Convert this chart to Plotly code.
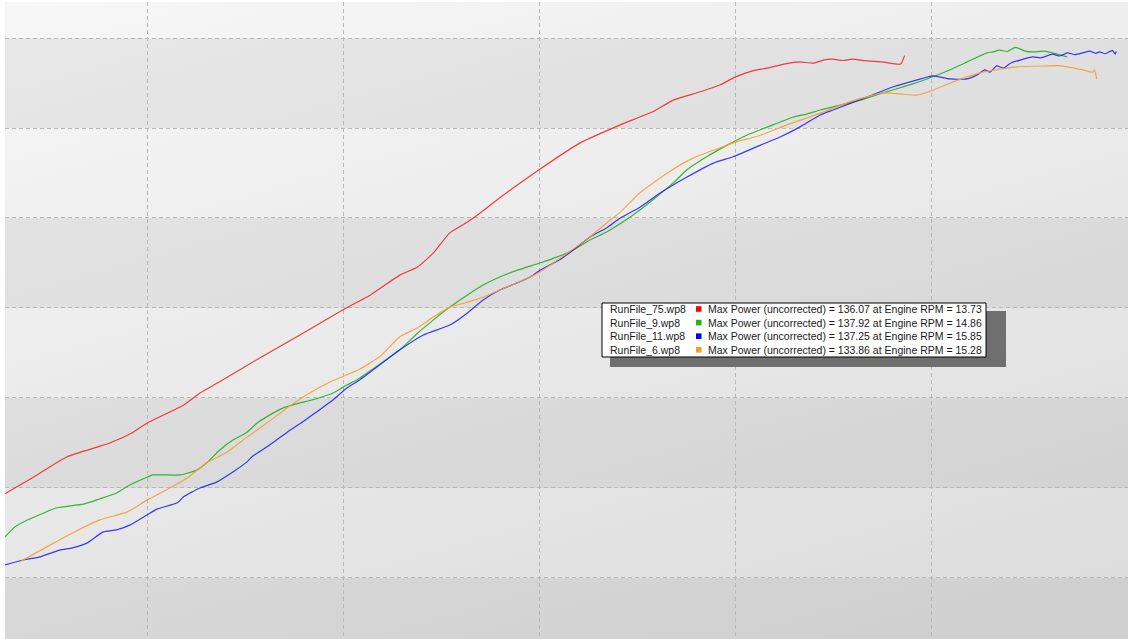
import base64
import plotly.graph_objects as go

# ---------------- data ----------------
files = ["RunFile_75.wp8", "RunFile_9.wp8", "RunFile_11.wp8", "RunFile_6.wp8"]
max_power = [136.07, 137.92, 137.25, 133.86]
max_rpm = [13.73, 14.86, 15.85, 15.28]

red_x = [4.55, 4.84, 5.18, 5.62, 5.86, 6.00, 6.37, 6.54, 6.74, 7.15, 7.56, 8.00, 8.28, 8.58,
         8.76, 8.92, 9.09, 9.27, 9.40, 9.57, 10.00, 10.42, 10.83, 11.16, 11.37, 11.64, 11.85,
         12.00, 12.18, 12.33, 12.50, 12.66, 12.80, 12.90, 13.00, 13.10, 13.20, 13.35, 13.50,
         13.69, 13.73]
red_y = [38.7, 42.4, 46.9, 50.0, 52.4, 54.4, 58.4, 61.1, 63.6, 68.9, 74.0, 79.6, 82.9, 87.3,
         89.1, 92.2, 96.7, 99.1, 101.1, 104.0, 110.7, 116.7, 120.7, 123.6, 126.2, 128.0, 129.6,
         131.3, 132.7, 133.3, 134.2, 134.7, 134.4, 135.1, 135.3, 135.0, 135.3, 134.9, 134.7,
         134.2, 136.07]

green_x = [4.55, 4.65, 4.78, 4.94, 5.08, 5.35, 5.52, 5.69, 5.80, 6.00, 6.06, 6.34, 6.51, 6.61,
           6.74, 6.88, 7.02, 7.12, 7.22, 7.39, 7.56, 7.69, 7.90, 8.04, 8.14, 8.58, 8.76, 8.92,
           9.09, 9.27, 9.43, 9.60, 9.78, 10.01, 10.18, 10.35, 10.52, 10.69, 10.93, 11.16, 11.37,
           11.51, 11.71, 11.92, 12.12, 12.33, 12.59, 12.73, 12.87, 13.00, 13.28, 13.51, 13.74,
           13.96, 14.19, 14.37, 14.57, 14.63, 14.70, 14.78, 14.86, 14.96, 15.04, 15.16, 15.24,
           15.39]
green_y = [29.1, 31.3, 32.9, 34.4, 35.6, 36.4, 37.6, 38.9, 40.4, 42.4, 42.9, 42.9, 44.0, 45.6,
           48.4, 50.7, 52.4, 54.4, 55.8, 57.8, 58.9, 59.6, 61.1, 62.9, 64.0, 70.7, 74.4, 77.3,
           80.2, 82.9, 85.1, 86.9, 88.4, 90.0, 91.3, 92.9, 95.1, 96.9, 100.2, 104.0, 107.8,
           110.7, 113.6, 116.2, 118.4, 120.2, 122.4, 123.1, 124.0, 124.7, 126.2, 127.8, 129.3,
           130.9, 132.9, 134.7, 136.7, 136.9, 137.3, 137.0, 137.92, 137.1, 136.9, 137.1, 136.7,
           135.8]

blue_x = [4.55, 4.74, 4.91, 5.11, 5.24, 5.39, 5.55, 5.69, 5.83, 6.00, 6.10, 6.31, 6.37, 6.54,
          6.71, 6.88, 7.02, 7.08, 7.22, 7.43, 7.59, 7.73, 7.90, 8.04, 8.17, 8.58, 8.82, 9.09,
          9.27, 9.43, 9.60, 9.78, 9.94, 10.01, 10.21, 10.35, 10.52, 10.69, 10.83, 11.03, 11.24,
          11.51, 11.78, 11.98, 12.26, 12.46, 12.66, 12.87, 13.00, 13.35, 13.61, 13.86, 14.02,
          14.19, 14.37, 14.47, 14.55, 14.60, 14.67, 14.74, 14.81, 14.91, 15.04, 15.12, 15.24,
          15.31, 15.39, 15.47, 15.55, 15.62, 15.68, 15.72, 15.78, 15.85, 15.88, 15.89]
blue_y = [22.9, 24.0, 24.7, 26.2, 26.7, 27.8, 30.2, 30.7, 31.8, 34.0, 35.3, 36.7, 38.0, 40.0,
          41.3, 43.6, 45.8, 47.1, 49.1, 52.4, 54.7, 56.9, 59.6, 62.2, 64.0, 70.7, 74.0, 76.2,
          78.9, 81.8, 84.0, 85.6, 87.3, 88.4, 90.7, 92.9, 95.8, 97.8, 100.0, 102.4, 105.6,
          109.1, 112.2, 113.6, 116.2, 118.0, 120.2, 122.9, 124.0, 126.9, 129.1, 130.7, 131.6,
          130.9, 130.9, 131.8, 132.9, 132.4, 133.8, 133.3, 134.4, 135.1, 135.8, 135.6, 136.4,
          136.0, 136.7, 136.3, 136.7, 137.1, 136.6, 136.9, 136.5, 137.25, 136.4, 137.0]

orange_x = [4.72, 5.01, 5.24, 5.52, 5.80, 6.00, 6.20, 6.41, 6.61, 6.82, 7.02, 7.22, 7.43, 7.63,
            7.87, 8.17, 8.38, 8.58, 8.76, 8.92, 9.09, 9.27, 9.43, 9.60, 9.78, 10.01, 10.29,
            10.52, 10.69, 10.83, 11.03, 11.31, 11.57, 11.85, 11.98, 12.26, 12.53, 12.73, 12.87,
            13.17, 13.51, 13.68, 13.86, 14.02, 14.22, 14.53, 14.88, 15.21, 15.28, 15.39, 15.55,
            15.65, 15.67, 15.69]
orange_y = [23.8, 27.3, 30.0, 32.9, 34.7, 37.3, 39.6, 42.2, 45.6, 48.0, 51.3, 54.4, 57.8, 60.7,
            63.6, 66.4, 69.3, 73.6, 75.6, 78.0, 80.2, 81.3, 82.4, 84.0, 85.6, 88.0, 92.2,
            95.8, 98.9, 101.3, 105.6, 110.0, 113.3, 115.6, 116.7, 118.4, 120.7, 122.2, 123.3,
            125.8, 127.8, 127.6, 127.3, 128.4, 130.2, 132.4, 133.6, 133.8, 133.86, 133.6, 132.9,
            132.4, 132.9, 130.9]

series_x = [red_x, green_x, blue_x, orange_x]
series_y = [red_y, green_y, blue_y, orange_y]
line_colors = ["#f22a2a", "#22b022", "#2626f5", "#f7a035"]
swatch_colors = ["#ff0000", "#1db41d", "#0000ff", "#ff9a1a"]

# ---------------- layout geometry ----------------
W, H = 1130, 639
ML, MR, MT, MB = 5, 2, 2, 0
X_RANGE = [4.551, 16.01]
Y_RANGE = [6.44, 148.0]


def paper_x(px):
    return (px - ML) / (W - ML - MR)


def paper_y(py):
    return (H - MB - py) / (H - MT - MB)


fig = go.Figure()

for name, xs, ys, col in zip(files, series_x, series_y, line_colors):
    fig.add_trace(go.Scatter(x=xs, y=ys, mode="lines", name=name,
                             line=dict(color=col, width=1.2, shape="spline", smoothing=0.5),
                             opacity=0.9, showlegend=False, hoverinfo="skip"))

# background gradient (image below grid)
svg = ('<svg xmlns="http://www.w3.org/2000/svg" width="1123" height="637" '
       'viewBox="0 0 1123 637" preserveAspectRatio="none">'
       '<defs><linearGradient id="g" x1="0" y1="0" x2="0.6" y2="1.2">'
       '<stop offset="0" stop-color="#f7f7f7"/><stop offset="1" stop-color="#dbdbdb"/>'
       '</linearGradient></defs><rect width="1123" height="637" fill="url(#g)"/></svg>')
src = "data:image/svg+xml;base64," + base64.b64encode(svg.encode()).decode()
fig.add_layout_image(dict(source=src, xref="paper", yref="paper", x=0, y=1,
                          sizex=1, sizey=1, sizing="stretch", layer="below",
                          xanchor="left", yanchor="top"))

# alternating darker bands between grid lines
for y0, y1 in [(120, 140), (80, 100), (40, 60), (0, 20)]:
    fig.add_shape(type="rect", xref="paper", yref="y", x0=0, x1=1, y0=y0, y1=y1,
                  fillcolor="rgba(0,0,0,0.055)", line=dict(width=0), layer="below")

# custom legend box with shadow
bx0, bx1, by0, by1 = 602, 986, 303, 357
fig.add_shape(type="rect", xref="paper", yref="paper",
              x0=paper_x(bx0 + 8), x1=paper_x(bx1 + 20), y0=paper_y(by1 + 10), y1=paper_y(by0 + 8),
              fillcolor="#6f6f6f", line=dict(width=0), layer="above")
fig.add_shape(type="rect", xref="paper", yref="paper",
              x0=paper_x(bx0), x1=paper_x(bx1), y0=paper_y(by1), y1=paper_y(by0),
              fillcolor="white", line=dict(color="black", width=1), layer="above")

font = dict(family="Liberation Sans, Arial, sans-serif", size=10.5, color="#1a1a1a")
for i, (fname, pw, rpm, sc) in enumerate(zip(files, max_power, max_rpm, swatch_colors)):
    cy = 309 + i * 13.6
    fig.add_annotation(x=paper_x(609), y=paper_y(cy), xref="paper", yref="paper",
                       text=fname, showarrow=False, xanchor="left", yanchor="middle",
                       font=font, borderpad=0)
    fig.add_shape(type="rect", xref="paper", yref="paper",
                  x0=paper_x(696), x1=paper_x(701.5), y0=paper_y(cy + 2.8), y1=paper_y(cy - 2.8),
                  fillcolor=sc, line=dict(width=0), layer="above")
    fig.add_annotation(x=paper_x(707), y=paper_y(cy), xref="paper", yref="paper",
                       text=f"Max Power (uncorrected) = {pw:.2f} at Engine RPM = {rpm:.2f}",
                       showarrow=False, xanchor="left", yanchor="middle", font=font, borderpad=0)

grid = dict(showgrid=True, gridcolor="#b8b8b8", gridwidth=1, griddash="4px,3px",
            zeroline=False, showline=False, showticklabels=False, ticks="", fixedrange=True)
fig.update_layout(
    width=W, height=H,
    margin=dict(l=ML, r=MR, t=MT, b=MB, pad=0),
    paper_bgcolor="white", plot_bgcolor="rgba(0,0,0,0)",
    xaxis=dict(range=X_RANGE, tick0=6, dtick=2, **grid),
    yaxis=dict(range=Y_RANGE, tick0=0, dtick=20, **grid),
    showlegend=False,
)

fig.write_html("out.html", config={"displayModeBar": False},
               post_script="document.body.style.margin='0';document.body.style.padding='0';"
                           "document.body.style.overflow='hidden';")
